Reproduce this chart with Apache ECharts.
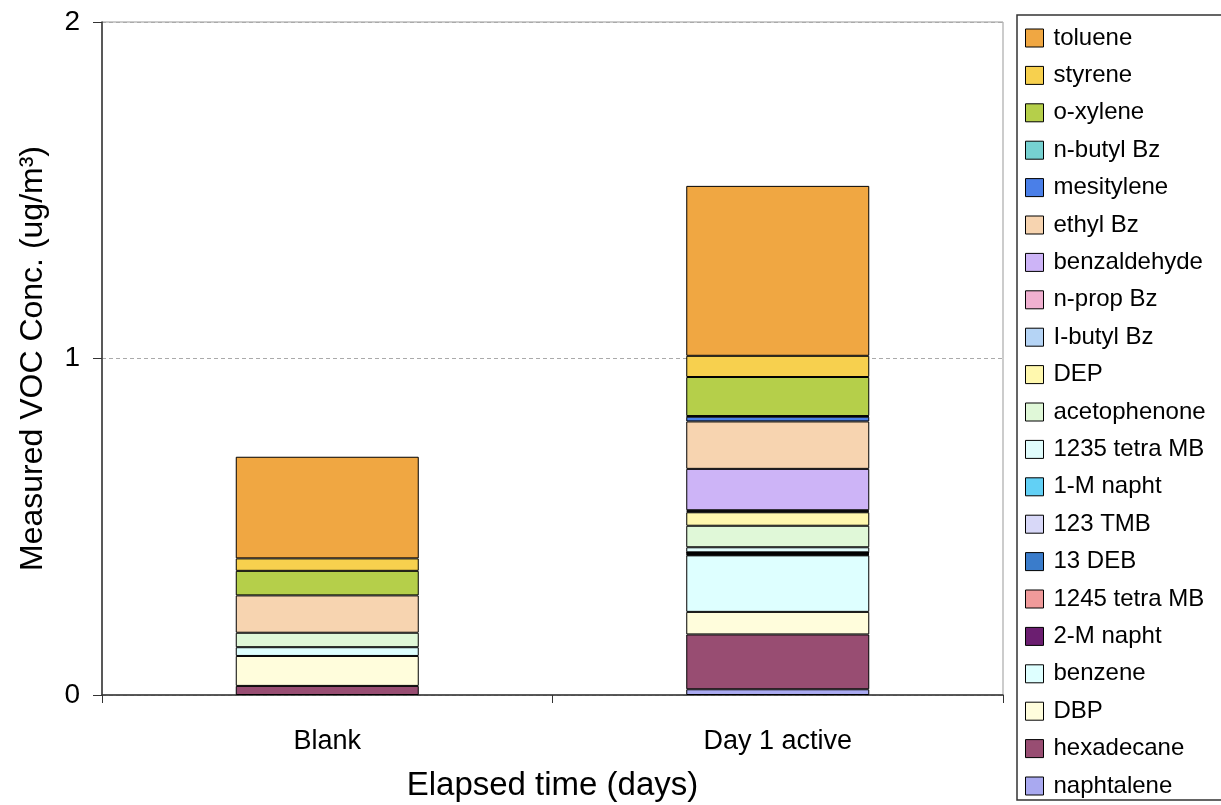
<!DOCTYPE html>
<html>
<head>
<meta charset="utf-8">
<script src="https://cdn.jsdelivr.net/npm/echarts@6/dist/echarts.min.js"></script>
<style>html,body{margin:0;padding:0;background:#fff}#c{width:1221px;height:805px}</style>
</head>
<body>
<div id="c"></div>
<script>
const categories = ['Blank', 'Day 1 active'];
// stacking order: bottom -> top
const seriesNames = ['naphtalene','hexadecane','DBP','benzene','2-M napht','1245 tetra MB','13 DEB','123 TMB','1-M napht','1235 tetra MB','acetophenone','DEP','I-butyl Bz','n-prop Bz','benzaldehyde','ethyl Bz','mesitylene','n-butyl Bz','o-xylene','styrene','toluene'];
const blankValues = [null,0.027,0.089,0.026,null,null,null,null,null,null,0.043,null,null,null,null,0.111,null,null,0.073,0.037,0.302];
const day1Values  = [0.017,0.163,0.067,0.168,0.002,0.002,0.002,0.002,0.001,0.015,0.064,0.040,0.003,0.003,0.123,0.141,0.014,0.002,0.116,0.063,0.505];
const seriesColors = ['#A9A9F0','#984D72','#FFFDDC','#DEFFFF','#6B1E70','#F09A9A','#3A7CCB','#D8D8F8','#62D0F5','#E0FCFC','#E0F8D8','#FFF8AE','#B5D4F5','#F0B0D0','#CDB4F7','#F7D4B0','#4A7FE8','#76D1D1','#B5CF4A','#F7D04E','#F0A742'];
const yTicks = [0, 1, 2];

const font = 'Liberation Sans, Arial, sans-serif';
const chart = echarts.init(document.getElementById('c'), null, {renderer: 'canvas'});
const series = seriesNames.map((n, i) => ({
  name: n,
  type: 'bar',
  stack: 'total',
  barWidth: 183,
  data: [blankValues[i], day1Values[i]].map(v => v == null ? '-' : v),
  itemStyle: {color: seriesColors[i], borderColor: '#000', borderWidth: 1},
  emphasis: {disabled: true}
}));
chart.setOption({
  animation: false,
  textStyle: {fontFamily: font},
  grid: {left: 102, top: 22, right: 218, bottom: 110, show: true, borderColor: '#999', borderWidth: 1,
    containLabel: false, outerBoundsMode: 'none'},
  xAxis: {
    type: 'category',
    data: categories,
    name: 'Elapsed time (days)',
    nameLocation: 'middle',
    nameGap: 74,
    nameTextStyle: {fontSize: 33, color: '#000', fontFamily: font},
    axisLine: {lineStyle: {color: '#333', width: 1.5}},
    axisTick: {show: true, length: 8, lineStyle: {color: '#333'}},
    axisLabel: {fontSize: 27, color: '#000', margin: 33, fontFamily: font}
  },
  yAxis: {
    type: 'value',
    min: 0, max: 2, interval: 1,
    name: 'Measured VOC Conc. (ug/m³)',
    nameLocation: 'middle',
    nameGap: 53,
    nameTextStyle: {fontSize: 32, color: '#000', fontFamily: font},
    axisLine: {show: true, lineStyle: {color: '#333', width: 1.5}},
    axisTick: {show: true, length: 9, lineStyle: {color: '#333'}},
    axisLabel: {fontSize: 28, color: '#000', margin: 22, fontFamily: font,
      formatter: v => yTicks.includes(v) ? String(v) : ''},
    splitLine: {show: true, lineStyle: {color: '#aaa', type: [4, 3], width: 1}}
  },
  legend: {
    orient: 'vertical',
    left: 1017, top: 15,
    padding: [11, 24, 2, 8],
    icon: 'rect',
    itemWidth: 18, itemHeight: 18, itemGap: 13.4,
    borderColor: '#333', borderWidth: 1.5,
    data: seriesNames.slice().reverse(),
    itemStyle: {borderColor: '#000', borderWidth: 1},
    textStyle: {fontSize: 24, color: '#000', fontFamily: font, padding: [0, 0, 0, 5]},
    selectedMode: false
  },
  series: series
});
</script>
</body>
</html>
